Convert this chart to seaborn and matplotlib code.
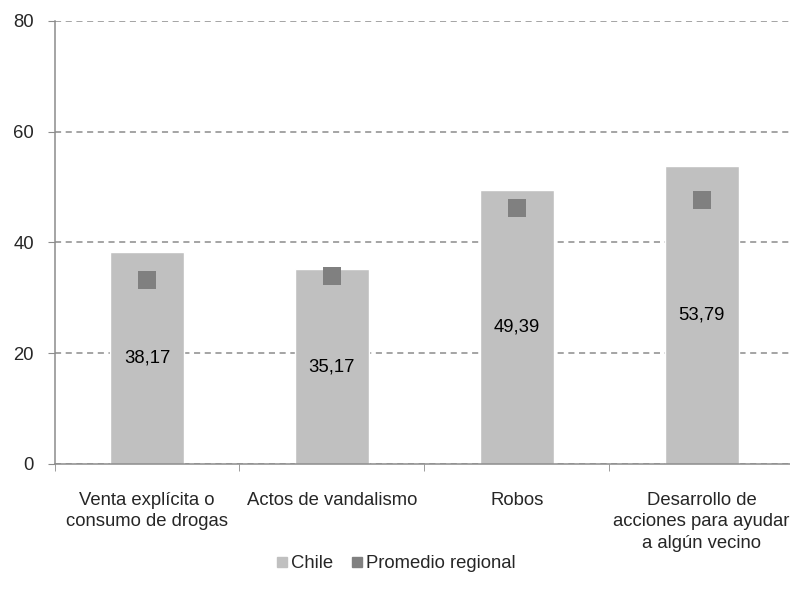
import numpy as np
import pandas as pd
import matplotlib
matplotlib.use("Agg")
import matplotlib.pyplot as plt
from matplotlib.lines import Line2D
import seaborn as sns

categorias = ["Venta explícita o\nconsumo de drogas", "Actos de vandalismo", "Robos",
              "Desarrollo de\nacciones para ayudar\na algún vecino"]
chile = [38.17, 35.17, 49.39, 53.79]
promedio = [33.2, 33.9, 46.2, 47.7]
etiquetas = ["38,17", "35,17", "49,39", "53,79"]

sns.set_style("white")
plt.rcParams["font.family"] = ["Liberation Sans", "DejaVu Sans"]
fs = 13.3

df = pd.DataFrame({"cat": categorias, "Chile": chile, "Promedio regional": promedio})

fig = plt.figure(figsize=(7.9, 5.99), dpi=100)
ax = fig.add_axes([54.6/790, 1-464/599, (794-54.6)/790, (464-20.7)/599])

sns.barplot(data=df, x="cat", y="Chile", color="#c0c0c0", width=0.4, ax=ax,
            saturation=1, zorder=2)
sns.stripplot(data=df, x="cat", y="Promedio regional", marker="s", size=13.5,
              jitter=False, color="#808080", linewidth=0, ax=ax, zorder=3)

for i, (v, t) in enumerate(zip(chile, etiquetas)):
    ax.text(i, v/2, t, ha="center", va="center", fontsize=fs, color="black", zorder=4)

ax.set_xlim(-0.5, 3.5)
ax.set_ylim(0, 80)
ax.set_yticks([0, 20, 40, 60, 80])
ax.yaxis.grid(True, linestyle=(0, (4, 3)), color="#8c8c8c", linewidth=1.1)
ax.set_axisbelow(True)
ax.set_xlabel("")
ax.set_ylabel("")
for s in ["top", "right"]:
    ax.spines[s].set_visible(False)
for s in ["left", "bottom"]:
    ax.spines[s].set_color("#8c8c8c")
    ax.spines[s].set_linewidth(1.1)

ax.tick_params(axis="y", which="major", length=5, color="#8c8c8c", labelsize=fs, pad=10, left=True)
ax.tick_params(axis="x", which="major", length=0, labelsize=fs, pad=20)
ax.set_xticks([-0.5, 0.5, 1.5, 2.5, 3.5], minor=True)
ax.tick_params(axis="x", which="minor", length=5, color="#8c8c8c", bottom=True)
for lab in ax.get_xticklabels():
    lab.set_va("top")
    lab.set_ha("center")
    lab.set_multialignment("center")
    lab.set_linespacing(1.35)

handles = [Line2D([], [], marker="s", linestyle="", color="#c0c0c0", markersize=7.5),
           Line2D([], [], marker="s", linestyle="", color="#808080", markersize=7.5)]
fig.legend(handles, ["Chile", "Promedio regional"], loc="center", bbox_to_anchor=(0.5, 1-564/599),
           ncol=2, frameon=False, fontsize=fs, handletextpad=0.1, columnspacing=0.9,
           handlelength=0.8)

fig.savefig("out.png", dpi=100)
